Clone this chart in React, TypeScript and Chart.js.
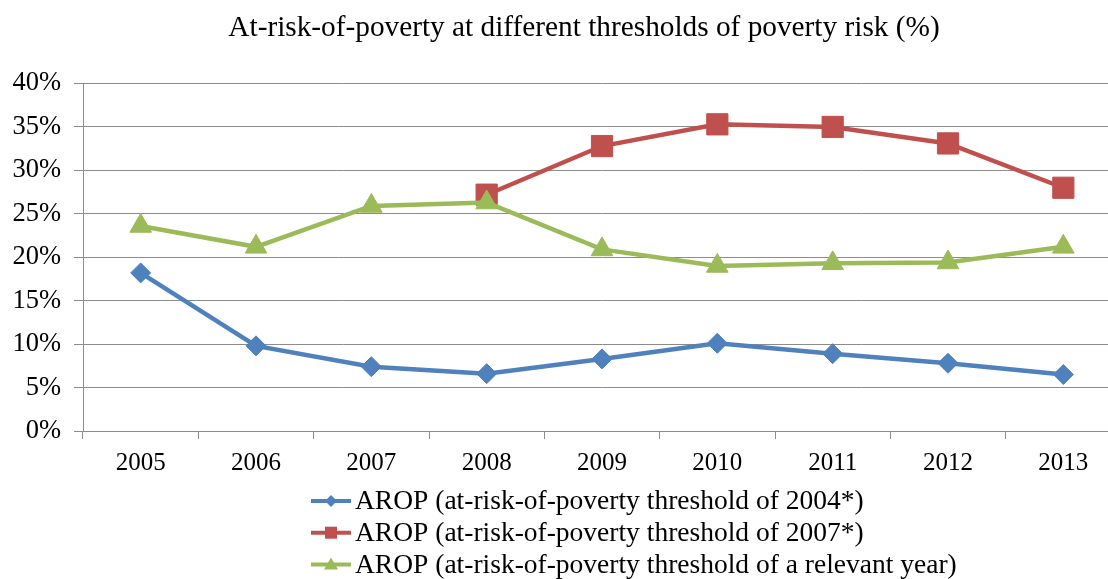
import React, { useEffect, useRef } from "react";
import { Chart, registerables } from "chart.js";

Chart.register(...registerables);

const years = ["2005", "2006", "2007", "2008", "2009", "2010", "2011", "2012", "2013"];
const arop2004 = [18.2, 9.8, 7.4, 6.6, 8.3, 10.1, 8.9, 7.8, 6.5];
const arop2007 = [null, null, null, 27.2, 32.8, 35.3, 35.0, 33.1, 28.0];
const aropRelevant = [23.6, 21.2, 25.9, 26.3, 20.9, 19.0, 19.3, 19.4, 21.2];

const seriesLabels = [
  "AROP (at-risk-of-poverty threshold of 2004*)",
  "AROP (at-risk-of-poverty threshold of 2007*)",
  "AROP (at-risk-of-poverty threshold of a relevant year)",
];
const titleText = "At-risk-of-poverty at different thresholds of poverty risk (%)";

const BLUE = "#4f81bd";
const RED = "#c0504d";
const GREEN = "#9bbb59";
const GRID = "#8c8c8c";
const FONT = '"Liberation Serif", "Times New Roman", serif';

// Title centred over the full canvas width
const canvasTitle = {
  id: "canvasTitle",
  afterDraw(chart: any) {
    const ctx = chart.ctx;
    ctx.save();
    ctx.fillStyle = "#000";
    ctx.font = `29.3px ${FONT}`;
    ctx.textAlign = "center";
    ctx.textBaseline = "middle";
    ctx.fillText(titleText, chart.width / 2, 28);
    ctx.restore();
  },
};

// Stacked legend drawn under the plot, one series per row
const stackedLegend = {
  id: "stackedLegend",
  afterDraw(chart: any) {
    const ctx = chart.ctx;
    const x0 = 311;
    const lineLen = 40;
    const y0 = 501;
    const rowGap = 31.7;
    ctx.save();
    chart.data.datasets.forEach((ds: any, i: number) => {
      const y = y0 + i * rowGap;
      const color = ds.borderColor;
      ctx.strokeStyle = color;
      ctx.lineWidth = 4;
      ctx.beginPath();
      ctx.moveTo(x0, y);
      ctx.lineTo(x0 + lineLen, y);
      ctx.stroke();
      const cx = x0 + lineLen / 2;
      ctx.fillStyle = color;
      ctx.beginPath();
      if (ds.pointStyle === "rectRot") {
        ctx.moveTo(cx - 6, y);
        ctx.lineTo(cx, y - 6);
        ctx.lineTo(cx + 6, y);
        ctx.lineTo(cx, y + 6);
      } else if (ds.pointStyle === "rect") {
        ctx.rect(cx - 6, y - 6, 12, 12);
      } else {
        ctx.moveTo(cx, y - 7);
        ctx.lineTo(cx + 7, y + 5);
        ctx.lineTo(cx - 7, y + 5);
      }
      ctx.closePath();
      ctx.fill();
      ctx.fillStyle = "#000";
      ctx.font = `27.5px ${FONT}`;
      ctx.textBaseline = "middle";
      ctx.textAlign = "left";
      ctx.fillText(ds.label, x0 + lineLen + 4, y + 1);
    });
    ctx.restore();
  },
};

export default function App() {
  const canvasRef = useRef<HTMLCanvasElement | null>(null);

  useEffect(() => {
    if (!canvasRef.current) return;
    const chart = new Chart(canvasRef.current, {
      type: "line",
      data: {
        labels: years,
        datasets: [
          {
            label: seriesLabels[0],
            data: arop2004,
            borderColor: BLUE,
            backgroundColor: BLUE,
            pointStyle: "rectRot",
            pointRadius: 10,
            borderWidth: 4.5,
            pointBorderWidth: 1,
            order: 3,
          },
          {
            label: seriesLabels[1],
            data: arop2007,
            borderColor: RED,
            backgroundColor: RED,
            pointStyle: "rect",
            pointRadius: 15,
            borderWidth: 4.5,
            pointBorderWidth: 1,
            order: 2,
          },
          {
            label: seriesLabels[2],
            data: aropRelevant,
            borderColor: GREEN,
            backgroundColor: GREEN,
            pointStyle: "triangle",
            pointRadius: 12.5,
            borderWidth: 4.5,
            pointBorderWidth: 1,
            order: 1,
          },
        ],
      },
      options: {
        animation: false,
        responsive: false,
        devicePixelRatio: 1,
        layout: { padding: { left: 0, right: 47, top: 83.5, bottom: 100 } },
        plugins: {
          legend: { display: false },
          tooltip: { enabled: false },
          title: { display: false },
        },
        scales: {
          x: {
            offset: true,
            grid: {
              offset: true,
              drawOnChartArea: false,
              drawTicks: true,
              tickLength: 8,
              color: GRID,
            },
            border: { display: true, color: GRID, width: 1 },
            ticks: {
              color: "#000",
              font: { family: FONT, size: 25 },
              padding: 9,
              maxRotation: 0,
            },
            afterFit: (s: any) => {
              s.height = 48;
            },
          },
          y: {
            min: 0,
            max: 40,
            grid: { color: GRID, tickLength: 9, drawTicks: true },
            border: { display: true, color: GRID, width: 1 },
            ticks: {
              stepSize: 5,
              color: "#000",
              font: { family: FONT, size: 26.5 },
              padding: 13,
              callback: (v: any) => `${v}%`,
            },
            afterFit: (s: any) => {
              s.width = 83;
            },
          },
        },
      },
      plugins: [canvasTitle, stackedLegend],
    });
    return () => chart.destroy();
  }, []);

  return (
    <div
      style={{
        position: "absolute",
        left: 0,
        top: 0,
        width: 1108,
        height: 579,
        overflow: "hidden",
        background: "#fff",
      }}
    >
      <canvas ref={canvasRef} width={1168} height={579} style={{ width: 1168, height: 579 }} />
    </div>
  );
}
